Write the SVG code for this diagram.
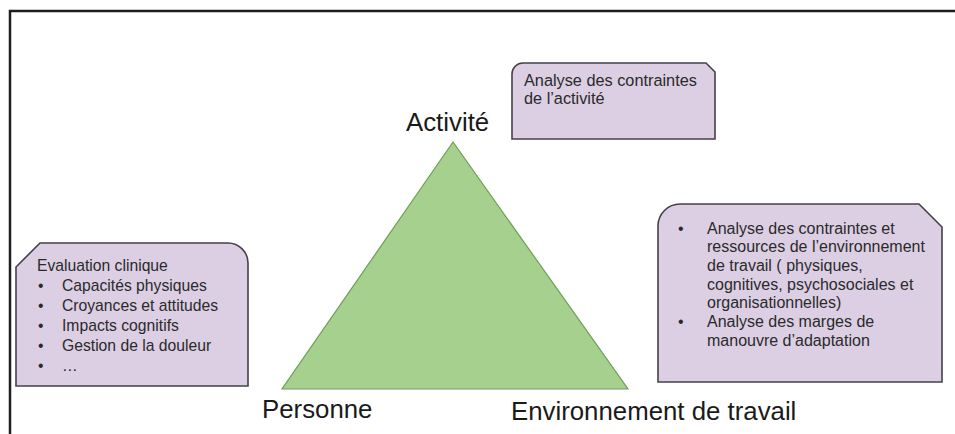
<svg xmlns="http://www.w3.org/2000/svg" width="955" height="434" viewBox="0 0 955 434">
<style>
.box{fill:#dccfe4;stroke:#45404a;stroke-width:1.6}
.t{font-family:"Liberation Sans",Arial,sans-serif;fill:#2a2a2a}
.s{font-size:15.7px}
.r{font-size:16px}
.a{font-size:16.3px}
.big{font-size:25.8px;fill:#1a1a1a}
</style>
<rect width="955" height="434" fill="#ffffff"/>
<g id="frame">
<path d="M10,434 V11 H955" fill="none" stroke="#1e1e1e" stroke-width="2.5"/>
</g>
<g id="connectors"/>
<g id="triangle">
<polygon points="453,142 282,389 628,389" fill="#a6d08d" stroke="#6e9e55" stroke-width="1.2"/>
</g>
<g id="label-activite">
<text class="t big" x="406" y="131">Activité</text>
</g>
<g id="label-personne">
<text class="t big" x="262" y="418">Personne</text>
</g>
<g id="label-environnement">
<text class="t big" x="511" y="420">Environnement de travail</text>
</g>
<g id="box-activite">
<path class="box" d="M523,63 H706 L715,72 V139 H512 V74 A11,11 0 0 1 523,63 Z"/>
<text class="t a" x="524" y="86">Analyse des contraintes</text>
<text class="t a" x="524" y="104">de l’activité</text>
</g>
<g id="box-personne">
<path class="box" d="M40,243 H228 A20,20 0 0 1 248,263 V386 H16 V267 Z"/>
<text class="t s" x="37" y="271">Evaluation clinique</text>
<text class="t s" x="38" y="290.5">•</text><text class="t s" x="62" y="290.5">Capacités physiques</text>
<text class="t s" x="38" y="310.5">•</text><text class="t s" x="62" y="310.5">Croyances et attitudes</text>
<text class="t s" x="38" y="330.5">•</text><text class="t s" x="62" y="330.5">Impacts cognitifs</text>
<text class="t s" x="38" y="350.5">•</text><text class="t s" x="62" y="350.5">Gestion de la douleur</text>
<text class="t s" x="38" y="370.5">•</text><text class="t s" x="62" y="370.5">…</text>
</g>
<g id="box-environnement">
<path class="box" d="M680,204 H919 L942,227 V382 H658 V226 A22,22 0 0 1 680,204 Z"/>
<text class="t r" x="678" y="233.5">•</text>
<text class="t r" x="707" y="233.5">Analyse des contraintes et</text>
<text class="t r" x="707" y="252.2">ressources de l’environnement</text>
<text class="t r" x="707" y="270.9">de travail ( physiques,</text>
<text class="t r" x="707" y="289.6">cognitives, psychosociales et</text>
<text class="t r" x="707" y="308.3">organisationnelles)</text>
<text class="t r" x="678" y="327">•</text>
<text class="t r" x="707" y="327">Analyse des marges de</text>
<text class="t r" x="707" y="345.7">manouvre d’adaptation</text>
</g>
</svg>
